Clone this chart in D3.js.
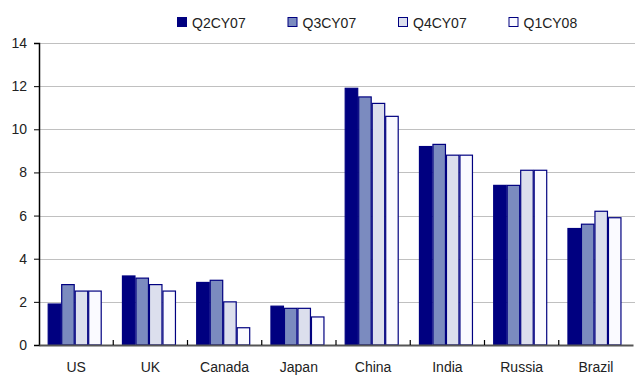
<!DOCTYPE html>
<html>
<head>
<meta charset="utf-8">
<script src="https://cdn.jsdelivr.net/npm/d3@7/dist/d3.min.js"></script>
<style>
  html, body { margin: 0; padding: 0; background: #fff; }
  svg { display: block; font-family: "Liberation Sans", Arial, sans-serif; }
</style>
</head>
<body>
<svg id="chart" width="635" height="375"></svg>
<script>
// Countries along the x axis
const countries = ["US", "UK", "Canada", "Japan", "China", "India", "Russia", "Brazil"];
// Quarters shown as grouped bars
const quarters = ["Q2CY07", "Q3CY07", "Q4CY07", "Q1CY08"];
// Values per quarter, in country order
const q2cy07 = [1.9, 3.2, 2.9, 1.8, 11.9, 9.2, 7.4, 5.4];
const q3cy07 = [2.8, 3.1, 3.0, 1.7, 11.5, 9.3, 7.4, 5.6];
const q4cy07 = [2.5, 2.8, 2.0, 1.7, 11.2, 8.8, 8.1, 6.2];
const q1cy08 = [2.5, 2.5, 0.8, 1.3, 10.6, 8.8, 8.1, 5.9];
const yTicks = [0, 2, 4, 6, 8, 10, 12, 14];

const seriesValues = [q2cy07, q3cy07, q4cy07, q1cy08];
const fills = ["#000080", "#7b8bbf", "#dcdfed", "#fafaff"];
const stroke = "#000080";

const svg = d3.select("#chart");
const margin = { left: 39, right: 2, top: 43, bottom: 30 };
const W = 635, H = 375;

const x0 = d3.scaleBand().domain(countries)
  .range([margin.left, W - margin.right]).paddingInner(0).paddingOuter(0);
const x1 = d3.scaleBand().domain(quarters)
  .range([0, x0.bandwidth()]).paddingOuter(0.75).paddingInner(0).align(0.43);
const y = d3.scaleLinear().domain([0, 14]).range([H - margin.bottom, margin.top]);

// Gridlines
svg.append("g")
  .selectAll("line")
  .data(yTicks.filter(d => d > 0))
  .join("line")
  .attr("x1", margin.left).attr("x2", W)
  .attr("y1", d => Math.round(y(d)) + 0.5).attr("y2", d => Math.round(y(d)) + 0.5)
  .attr("stroke", "#c0c0c0").attr("stroke-width", 1);

// Bars
const rows = countries.map((c, i) => ({
  country: c,
  values: quarters.map((q, k) => ({ q, k, v: seriesValues[k][i] }))
}));

svg.append("g")
  .selectAll("g")
  .data(rows)
  .join("g")
  .attr("transform", d => `translate(${x0(d.country)},0)`)
  .selectAll("rect")
  .data(d => d.values)
  .join("rect")
  .attr("x", d => x1(d.q) + 0.5)
  .attr("y", d => y(d.v))
  .attr("width", x1.bandwidth() - 1)
  .attr("height", d => y(0) - y(d.v))
  .attr("fill", d => fills[d.k])
  .attr("stroke", stroke)
  .attr("stroke-width", 1.2);

// Y axis
const yAxis = svg.append("g")
  .attr("transform", `translate(${margin.left},0)`)
  .call(d3.axisLeft(y).tickValues(yTicks).tickSize(5).tickPadding(7).tickFormat(d3.format("d")));
yAxis.select(".domain").attr("stroke", "#000").attr("stroke-width", 1.5);
yAxis.selectAll(".tick line").attr("stroke", "#000");
yAxis.selectAll("text").attr("font-size", 14).attr("fill", "#222")
  .attr("font-family", "Liberation Sans, Arial, sans-serif");

// X axis
const xAxis = svg.append("g")
  .attr("transform", `translate(0,${y(0)})`)
  .call(d3.axisBottom(x0).tickSize(0).tickPadding(17));
xAxis.select(".domain").attr("stroke", "#555").attr("stroke-width", 2);
xAxis.selectAll("text").attr("font-size", 14).attr("fill", "#222")
  .attr("font-family", "Liberation Sans, Arial, sans-serif");

// Category separators on the x axis
svg.append("g")
  .selectAll("line")
  .data(countries.slice(1))
  .join("line")
  .attr("x1", d => x0(d)).attr("x2", d => x0(d))
  .attr("y1", y(0)).attr("y2", y(0) - 5)
  .attr("stroke", "#000").attr("stroke-width", 1.2);

// Legend
const legend = svg.append("g").attr("transform", "translate(177,17)");
const item = legend.selectAll("g")
  .data(quarters)
  .join("g")
  .attr("transform", (d, i) => `translate(${i * 110.5},0)`);
item.append("rect")
  .attr("x", 0.5).attr("y", 0.5).attr("width", 9).attr("height", 9)
  .attr("fill", (d, i) => fills[i]).attr("stroke", stroke).attr("stroke-width", 1);
item.append("text")
  .attr("x", 15).attr("y", 10.5)
  .attr("font-size", 14).attr("fill", "#222")
  .text(d => d);
</script>
</body>
</html>
